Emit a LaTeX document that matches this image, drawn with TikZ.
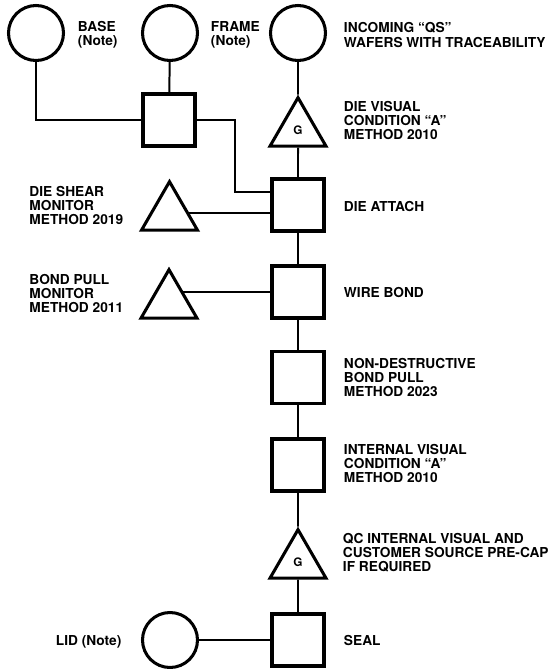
\documentclass[tikz,border=0pt]{standalone}
\usepackage{fontspec}
\setmainfont{TeX Gyre Heros}
\usetikzlibrary{shapes.geometric,calc}
\tikzset{
  cir/.style={circle,draw,line width=2.6pt,minimum size=1.65cm,inner sep=0pt},
  box/.style={rectangle,draw,line width=2.6pt,minimum width=1.56cm,minimum height=1.56cm,inner sep=0pt},
  tri/.style={regular polygon,regular polygon sides=3,draw,line width=2.6pt,minimum size=1.94cm,inner sep=0pt,font=\bfseries\fontsize{10}{10}\selectfont},
  txt/.style={anchor=west,align=left,inner sep=0pt,font=\bfseries\fontsize{11.7}{12}\selectfont},
  every picture/.style={line width=1.7pt},
}
\begin{document}
\begin{tikzpicture}[x=0.03cm,y=-0.03cm]
\useasboundingbox (0,0) rectangle (551,669);
% symbols
\node[cir] (base) at (36,33){}; \node[cir] (frame) at (170,33){}; \node[cir] (wafer) at (298,33){};
\node[box] (fb) at (169,120){}; \node[tri] (dv) at (298,130){G};
\node[box] (da) at (298,205){}; \node[tri] (ds) at (169.5,214){};
\node[box] (wb) at (298,292){}; \node[tri] (bp) at (169,302){};
\node[box] (nd) at (298,377.5){}; \node[box] (iv) at (298,465){};
\node[tri] (qc) at (298,562){G};
\node[box] (seal) at (298,640){}; \node[cir] (lid) at (170,640){};
% labels
\node[txt] (tbase) at (77,34.5){BASE\\(Note)};
\node[txt] (tframe) at (210,35){FRAME\\(Note)};
\node[txt] (twafer) at (343,35){INCOMING ``QS''\\WAFERS WITH TRACEABILITY};
\node[txt] (tdv) at (343,120.7){DIE VISUAL\\CONDITION ``A''\\METHOD 2010};
\node[txt] (tds) at (28.5,205.5){DIE SHEAR\\MONITOR\\METHOD 2019};
\node[txt] (tda) at (343,206){DIE ATTACH};
\node[txt] (tbp) at (28.5,293.7){BOND PULL\\MONITOR\\METHOD 2011};
\node[txt] (twb) at (343,292.5){WIRE BOND};
\node[txt] (tnd) at (343,377.5){NON-DESTRUCTIVE\\BOND PULL\\METHOD 2023};
\node[txt] (tiv) at (343,463.5){INTERNAL VISUAL\\CONDITION ``A''\\METHOD 2010};
\node[txt] (tqc) at (342,553){QC INTERNAL VISUAL AND\\CUSTOMER SOURCE PRE-CAP\\IF REQUIRED};
\node[txt] (tlid) at (55,642){LID (Note)};
\node[txt] (tseal) at (343,640){SEAL};
% connectors
\coordinate (j) at (235,192.3);
\coordinate (dsr) at ($(ds.corner 1)!.64!(ds.corner 3)$);
\coordinate (bpr) at ($(bp.corner 1)!.47!(bp.corner 3)$);
\draw (base) |- (fb); \draw (frame) -- (fb); \draw (fb) -| (j) -- (j -| da.west);
\draw (wafer) -- (dv); \draw (dv) -- (da); \draw (dsr) -- (dsr -| da.west);
\draw (da) -- (wb); \draw (bpr) -- (bpr -| wb.west); \draw (wb) -- (nd);
\draw (nd) -- (iv); \draw (iv) -- (qc); \draw (qc) -- (seal); \draw (lid) -- (seal);
\end{tikzpicture}
\end{document}
